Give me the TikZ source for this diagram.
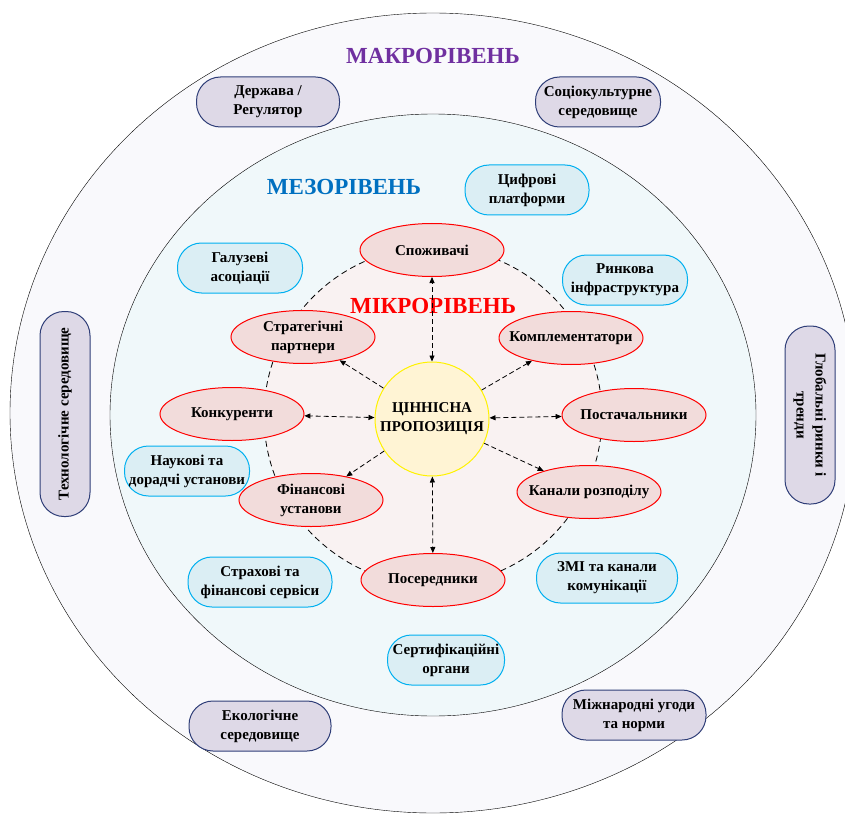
\documentclass[tikz,border=0pt]{standalone}
\usepackage{fontspec}
\setmainfont{Liberation Serif}
\usepackage{tikz}
\usetikzlibrary{shapes.geometric,arrows.meta}
\definecolor{macrobg}{RGB}{249,249,252}
\definecolor{mesobg}{RGB}{240,248,250}
\definecolor{microbg}{RGB}{249,242,242}
\definecolor{macrolav}{RGB}{222,217,231}
\definecolor{macroline}{RGB}{47,62,120}
\definecolor{mesocyan}{RGB}{219,238,244}
\definecolor{mesoline}{RGB}{0,176,240}
\definecolor{micropink}{RGB}{242,220,219}
\definecolor{coreyellow}{RGB}{255,244,212}
\definecolor{macropurple}{RGB}{112,48,160}
\definecolor{mesoblue}{RGB}{0,112,192}

\begin{document}
\begin{tikzpicture}[x=1pt, y=-1pt,
    boxtext/.style={align=center, inner sep=1pt, font=\fontsize{15}{19}\selectfont\bfseries},
    macronode/.style={boxtext, draw=macroline, fill=macrolav, line width=1pt, rounded corners=24pt, minimum height=50pt},
    mesonode/.style={boxtext, draw=mesoline, fill=mesocyan, line width=1pt, rounded corners=24pt, minimum height=50pt},
    micronode/.style={boxtext, ellipse, draw=red, fill=micropink, line width=1pt, inner xsep=-12pt, inner ysep=0pt, minimum width=144pt, minimum height=53pt},
    leveltitle/.style={font=\fontsize{23}{26}\selectfont\bfseries},
    link/.style={dash pattern=on 5pt off 3pt, line width=0.8pt}]
    \useasboundingbox (0,0) rectangle (845,818);
    \clip (0,0) rectangle (845,818);

    % Three levels
    \filldraw[fill=macrobg, draw=black] (433,413) ellipse [x radius=423, y radius=400];
    \filldraw[fill=mesobg, draw=black] (433,415) ellipse [x radius=323, y radius=301];
    \fill[microbg] (433,416) circle (169);
    \draw[dash pattern=on 6pt off 4pt, line width=0.8pt] (433,416) circle (169);

    % Level titles
    \node[leveltitle, text=macropurple] (tmacro) at (433,56) {МАКРОРІВЕНЬ};
    \node[leveltitle, text=mesoblue] (tmeso) at (344,187) {МЕЗОРІВЕНЬ};
    \node[leveltitle, text=red] (tmicro) at (433,306) {МІКРОРІВЕНЬ};

    % Macro level
    \node[macronode, minimum width=143pt] (derzh) at (268,102) {Держава /\\Регулятор};
    \node[macronode, minimum width=125pt] (socio) at (598,102) {Соціокультурне\\середовище};
    \node[macronode, minimum width=205pt, rotate=90] (tech) at (65,414) {Технологічне середовище};
    \node[macronode, minimum width=178pt, rotate=-90] (glob) at (810,415) {Глобальні ринки і\\тренди};
    \node[macronode, minimum width=142pt] (eco) at (260,726) {Екологічне\\середовище};
    \node[macronode, minimum width=144pt] (intl) at (634,715) {Міжнародні угоди\\та норми};

    % Meso level
    \node[mesonode, minimum width=124pt] (digit) at (527,190) {Цифрові\\платформи};
    \node[mesonode, minimum width=125pt] (assoc) at (240,268) {Галузеві\\асоціації};
    \node[mesonode, minimum width=125pt] (infra) at (625,280) {Ринкова\\інфраструктура};
    \node[mesonode, minimum width=125pt] (science) at (187,471) {Наукові та\\дорадчі установи};
    \node[mesonode, minimum width=144pt] (insur) at (260,582) {Страхові та\\фінансові сервіси};
    \node[mesonode, minimum width=141pt] (media) at (607,578) {ЗМІ та канали\\комунікації};
    \node[mesonode, minimum width=117pt] (cert) at (446,660) {Сертифікаційні\\органи};

    % Micro level
    \node[micronode] (consum) at (432,250) {Споживачі};
    \node[micronode] (partn) at (303,337) {Стратегічні\\партнери};
    \node[micronode] (compl) at (571,338) {Комплементатори};
    \node[micronode] (compet) at (232,414) {Конкуренти};
    \node[micronode] (suppl) at (634,415) {Постачальники};
    \node[micronode] (finan) at (311,500) {Фінансові\\установи};
    \node[micronode] (distr) at (589,492) {Канали розподілу};
    \node[micronode] (interm) at (433,580) {Посередники};

    % Value proposition
    \node[boxtext, circle, draw=yellow, fill=coreyellow, line width=1pt, minimum size=114pt] (core) at (432,419) {ЦІННІСНА\\ПРОПОЗИЦІЯ};

    % Links
    \foreach \n in {consum,compet,suppl,interm}
        \draw[link, {Triangle[length=6pt,width=5pt]}-{Triangle[length=6pt,width=5pt]}] (core) -- (\n);
    \foreach \n in {partn,compl,finan,distr}
        \draw[link, -{Triangle[length=6pt,width=5pt]}] (core) -- (\n);
\end{tikzpicture}
\end{document}
